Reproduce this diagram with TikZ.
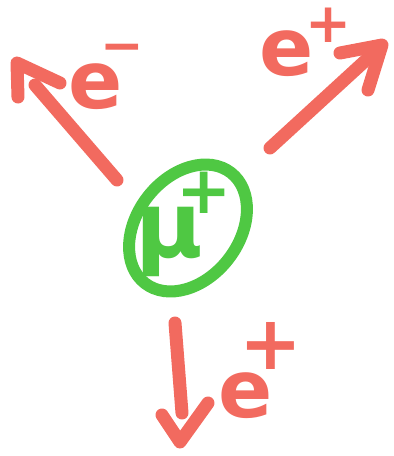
\documentclass[tikz,border=0pt]{standalone}
\usepackage{fontspec}
\setmainfont{DejaVu Sans}
\usepackage{tikz}
\usetikzlibrary{calc}
\definecolor{marker-red}{HTML}{F26A5F}
\definecolor{marker-green}{HTML}{4FC843}
\newcommand{\bigfont}[1]{\fontsize{#1}{#1}\selectfont\bfseries}

\tikzset{
  elec/.style={line width=13pt, marker-red, line cap=round, line join=round},
  muring/.style={line width=12pt, marker-green},
  elabel/.style={anchor=base west, inner sep=0pt, text=marker-red},
  mulabel/.style={anchor=base west, inner sep=0pt, text=marker-green}
}

\begin{document}
\begin{tikzpicture}[x=1pt, y=-1pt]
    \useasboundingbox (0,0) rectangle (394,456);
    % muon at rest
    \coordinate (mu-c) at (188,228);
    \draw[muring, rotate around={-38:(mu-c)}] (mu-c) ellipse (51 and 70);
    \node[mulabel] (mu) at (135,257) {\bigfont{92}µ\kern-26pt\raisebox{44pt}{\bigfont{66}+}};
    % decay products
    \coordinate (a-tail) at (117,180);
    \coordinate (a-end)  at (35,85);
    \coordinate (a-tip)  at (17,63);
    \draw[elec] (a-tail) -- (a-end);
    \draw[elec] (18,97) -- (a-tip) -- (60,83);
    \node[elabel] (em) at (68,108) {\bigfont{80}e\kern-22pt\raisebox{45pt}{\bigfont{52}−}};

    \coordinate (b-tail) at (270,148);
    \coordinate (b-end)  at (377,50);
    \coordinate (b-tip)  at (382,45);
    \draw[elec] (b-tail) -- (b-end);
    \draw[elec] (340,53) -- (b-tip) -- (368,90);
    \node[elabel] (ep1) at (259,75) {\bigfont{80}e\kern-8pt\raisebox{33pt}{\bigfont{55}+}};

    \coordinate (c-tail) at (175,323);
    \coordinate (c-end)  at (182,413);
    \coordinate (c-tip)  at (180,442);
    \draw[elec] (c-tail) -- (c-end);
    \draw[elec] (162,415) -- (c-tip) -- (208,403);
    \node[elabel] (ep2) at (218,417) {\bigfont{80}e\kern-33pt\raisebox{48pt}{\bigfont{75}+}};
\end{tikzpicture}
\end{document}
